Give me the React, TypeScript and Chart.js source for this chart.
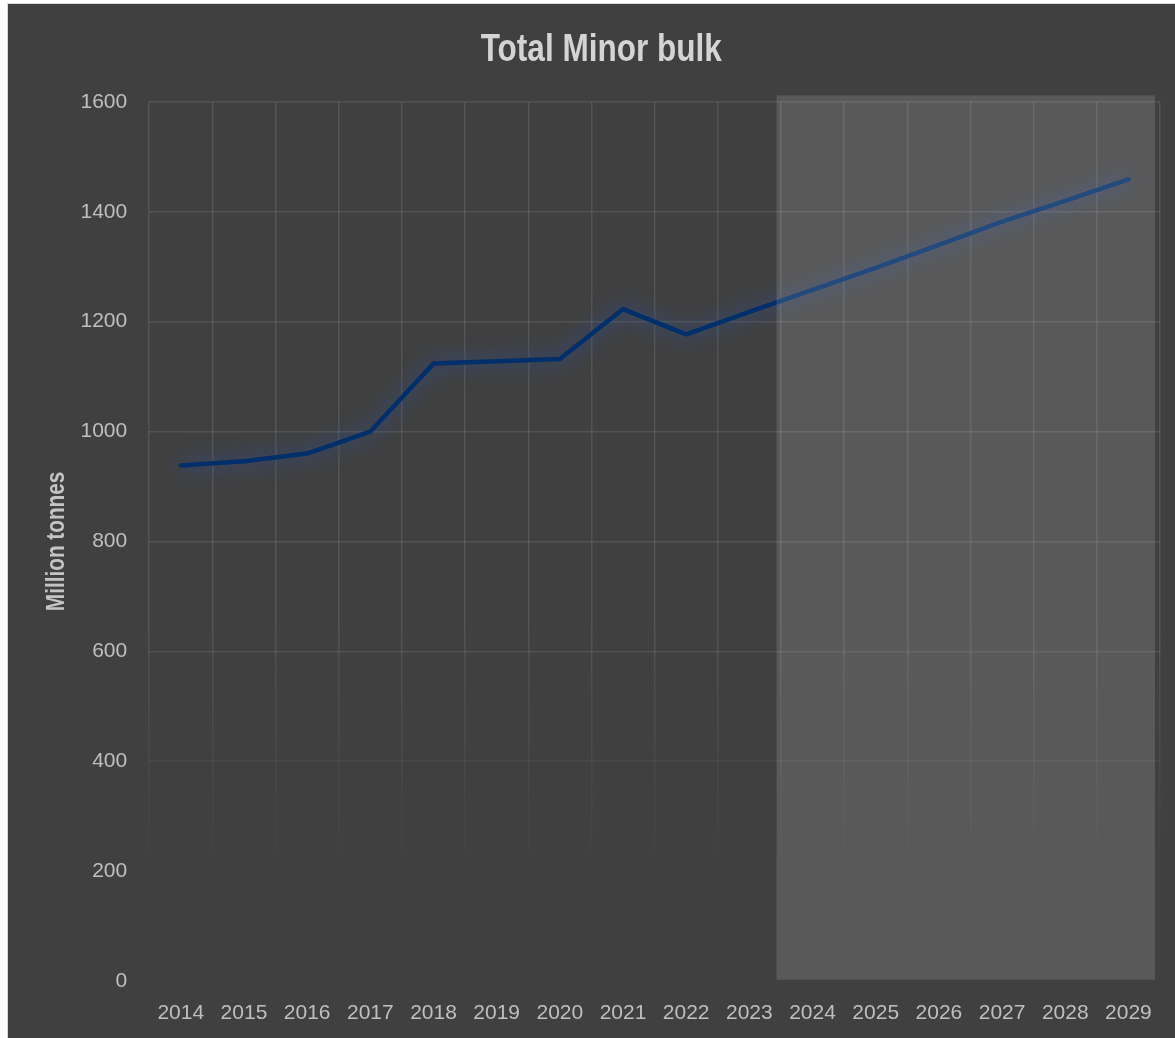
import React, { useEffect, useRef } from "react";
import { Chart, registerables } from "chart.js";

Chart.register(...registerables);

const TITLE = "Total Minor bulk";
const Y_TITLE = "Million tonnes";
const YEARS = ["2014", "2015", "2016", "2017", "2018", "2019", "2020", "2021", "2022", "2023", "2024", "2025", "2026", "2027", "2028", "2029"];
const MINOR_BULK = [938, 946, 960, 1000, 1124, 1128, 1132, 1223, 1177, 1218, 1258, 1298, 1340, 1382, 1420, 1459];
const Y_MIN = 0;
const Y_MAX = 1600;
const Y_STEP = 200;
// forecast shading, in data units (category index / million tonnes)
const FORECAST_FROM = 9.43;
const FORECAST_TO = 15.42;
const FORECAST_TOP = 1612;
const FORECAST_BOTTOM = 2;
// grid fade range (million tonnes)
const FADE_FULL = 650;
const FADE_NONE = 180;

const SANS = "'Liberation Sans', Arial, sans-serif";
const GRID_ALPHA = 0.1;
const NARROW_SCALE = 0.83;
const TITLE_SIZE = 38;
const TITLE_PAD_TOP = 24;
const Y_TITLE_SIZE = 25;

const glowPlugin = {
  id: "glow",
  beforeDatasetDraw(chart: any) {
    const c = chart.ctx;
    c.save();
    c.shadowColor = "rgba(40,85,180,0.9)";
    c.shadowBlur = 20;
    c.shadowOffsetX = 0;
    c.shadowOffsetY = 0;
  },
  afterDatasetDraw(chart: any) {
    chart.ctx.restore();
  },
};

const forecastPlugin = {
  id: "forecast",
  afterDatasetsDraw(chart: any) {
    const { ctx, scales } = chart;
    const x = scales.x;
    const y = scales.y;
    const l = x.getPixelForValue(FORECAST_FROM);
    const r = x.getPixelForValue(FORECAST_TO);
    const t = y.getPixelForValue(FORECAST_TOP);
    const b = y.getPixelForValue(FORECAST_BOTTOM);
    ctx.save();
    ctx.fillStyle = "rgba(255,255,255,0.135)";
    ctx.fillRect(l, t, r - l, b - t);
    ctx.restore();
  },
};

// Draws the titles in a condensed (horizontally scaled) bold face, like Arial Narrow.
const narrowTextPlugin = {
  id: "narrowText",
  afterDraw(chart: any) {
    const { ctx, chartArea, scales } = chart;
    const tb = chart.titleBlock;
    ctx.save();
    ctx.textAlign = "center";
    ctx.textBaseline = "middle";
    ctx.fillStyle = "#d4d4d4";
    ctx.font = `bold ${TITLE_SIZE}px ${SANS}`;
    const cx = tb ? (tb.left + tb.right) / 2 : chart.width / 2;
    const cy = (tb ? tb.top : 0) + TITLE_PAD_TOP + (TITLE_SIZE * 1.2) / 2;
    ctx.translate(cx, cy);
    ctx.scale(NARROW_SCALE, 1);
    ctx.fillText(TITLE, 0, 0);
    ctx.restore();

    const ys = scales.y;
    ctx.save();
    ctx.textAlign = "center";
    ctx.textBaseline = "middle";
    ctx.fillStyle = "#c4c4c4";
    ctx.font = `bold ${Y_TITLE_SIZE}px ${SANS}`;
    const tx = ys.left + (Y_TITLE_SIZE * 1.2) / 2;
    const ty = (chartArea.top + chartArea.bottom) / 2;
    ctx.translate(tx, ty);
    ctx.rotate(-Math.PI / 2);
    ctx.scale(NARROW_SCALE, 1);
    ctx.fillText(Y_TITLE, 0, 0);
    ctx.restore();
  },
};

function fadeAlpha(v: number) {
  const f = Math.max(0, Math.min(1, (v - FADE_NONE) / (FADE_FULL - FADE_NONE)));
  return GRID_ALPHA * f;
}

export default function App() {
  const ref = useRef<HTMLCanvasElement | null>(null);

  useEffect(() => {
    if (!ref.current) return;
    const chart = new Chart(ref.current, {
      type: "line",
      data: {
        labels: YEARS,
        datasets: [
          {
            label: TITLE,
            data: MINOR_BULK,
            borderColor: "#002f6c",
            borderWidth: 4.5,
            pointRadius: 0,
            pointHoverRadius: 0,
            tension: 0,
            fill: false,
            borderCapStyle: "round",
            borderJoinStyle: "round",
          },
        ],
      },
      options: {
        animation: false,
        responsive: false,
        maintainAspectRatio: false,
        devicePixelRatio: 1,
        layout: { padding: { left: 34.5, right: 31, top: 0, bottom: 8 } },
        plugins: {
          legend: { display: false },
          tooltip: { enabled: false },
          title: {
            display: true,
            text: TITLE,
            color: "rgba(0,0,0,0)",
            font: { family: SANS, size: TITLE_SIZE, weight: "bold" },
            padding: { top: TITLE_PAD_TOP, bottom: 28.4 },
          },
        },
        scales: {
          x: {
            type: "category",
            offset: true,
            grid: {
              offset: true,
              drawTicks: false,
              lineWidth: 1.5,
              color: (c: any) => {
                const chart = c.chart;
                const ys = chart.scales && chart.scales.y;
                if (!ys || !chart.chartArea) return `rgba(255,255,255,${GRID_ALPHA})`;
                const g = chart.ctx.createLinearGradient(0, ys.getPixelForValue(FADE_FULL), 0, ys.getPixelForValue(FADE_NONE));
                g.addColorStop(0, `rgba(255,255,255,${GRID_ALPHA})`);
                g.addColorStop(1, "rgba(255,255,255,0)");
                return g;
              },
            },
            border: { display: false },
            ticks: {
              color: "#bfbfbf",
              font: { family: SANS, size: 21 },
              padding: 20,
              maxRotation: 0,
              autoSkip: false,
            },
          },
          y: {
            min: Y_MIN,
            max: Y_MAX,
            grid: {
              drawTicks: false,
              lineWidth: 1.5,
              color: (c: any) => `rgba(255,255,255,${fadeAlpha(c.tick ? c.tick.value : 1000)})`,
            },
            border: { display: false },
            ticks: {
              stepSize: Y_STEP,
              color: "#bfbfbf",
              font: { family: SANS, size: 21 },
              padding: 22,
              callback: (v: any) => String(v),
            },
            title: {
              display: true,
              text: Y_TITLE,
              color: "rgba(0,0,0,0)",
              font: { family: SANS, size: Y_TITLE_SIZE, weight: "bold" },
              padding: { top: 0, bottom: -14 },
            },
          },
        },
      },
      plugins: [glowPlugin, forecastPlugin, narrowTextPlugin],
    } as any);
    return () => chart.destroy();
  }, []);

  return (
    <div
      style={{
        position: "fixed",
        left: 7,
        top: 3,
        right: 0,
        bottom: 0,
        borderLeft: "1px solid #d9d9d9",
        borderTop: "1px solid #d9d9d9",
        background: "#404040",
        overflow: "hidden",
      }}
    >
      <canvas ref={ref} width={1183} height={1050} style={{ display: "block", width: 1183, height: 1050 }} />
    </div>
  );
}
